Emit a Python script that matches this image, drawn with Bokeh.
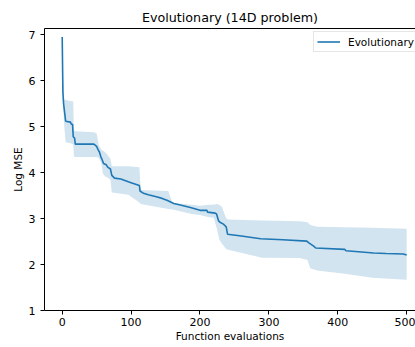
from bokeh.plotting import figure
from bokeh.models import FixedTicker, LinearAxis, Legend, LegendItem, Range1d
from bokeh.embed import file_html
from bokeh.resources import INLINE

title_text = "Evolutionary (14D problem)"
x_label = "Function evaluations"
y_label = "Log MSE"
series_name = "Evolutionary"

x_ticks = [0, 100, 200, 300, 400, 500]
y_ticks = [1, 2, 3, 4, 5, 6, 7]

mean_x = [0, 1, 2, 5, 12, 13, 15, 16, 18, 19, 46, 50, 52, 54, 56, 58, 60, 64, 66, 70,
          72, 76, 85, 96, 100, 112, 113, 118, 125, 138, 145, 152, 162, 170, 186, 200,
          210, 211, 222, 224, 227, 229, 234, 236, 238, 240, 260, 288, 320, 355, 358,
          365, 368, 410, 412, 430, 452, 470, 495, 500]
mean_y = [6.95, 5.75, 5.5, 5.12, 5.1, 5.06, 5.05, 4.78, 4.75, 4.62, 4.62, 4.57, 4.5,
          4.45, 4.35, 4.28, 4.2, 4.17, 4.12, 4.08, 3.94, 3.88, 3.86, 3.8, 3.78, 3.72,
          3.6, 3.55, 3.52, 3.47, 3.44, 3.4, 3.33, 3.3, 3.24, 3.18, 3.18, 3.14, 3.12,
          3.1, 2.95, 2.92, 2.88, 2.85, 2.82, 2.66, 2.62, 2.56, 2.54, 2.51, 2.47, 2.4,
          2.36, 2.33, 2.3, 2.28, 2.25, 2.24, 2.23, 2.21]

band_x = [0, 1, 2, 3, 5, 12, 16, 17, 19, 46, 50, 53, 55, 57, 59, 62, 65, 70, 72, 96,
          112, 114, 154, 160, 188, 200, 213, 220, 224, 228, 232, 238, 241, 290, 345,
          356, 360, 370, 410, 450, 500]
band_upper = [7.1, 6.2, 5.8, 5.6, 5.58, 5.56, 5.55, 4.92, 4.9, 4.88, 4.85, 4.6, 4.55,
              4.5, 4.48, 4.45, 4.4, 4.3, 4.14, 4.14, 4.12, 3.62, 3.6, 3.34, 3.3, 3.28,
              3.3, 3.3, 3.32, 3.3, 3.25, 3.0, 2.98, 2.96, 2.94, 2.92, 2.86, 2.82, 2.81,
              2.8, 2.78]
band_lower = [6.85, 5.6, 5.3, 5.0, 4.66, 4.64, 4.62, 4.35, 4.34, 4.34, 4.34, 4.32,
              4.26, 4.2, 3.98, 3.92, 3.9, 3.85, 3.57, 3.52, 3.35, 3.32, 3.21, 3.2, 3.1,
              3.08, 3.03, 3.02, 2.8, 2.55, 2.45, 2.34, 2.32, 2.15, 2.14, 2.1, 1.92,
              1.87, 1.8, 1.71, 1.67]

FONT = "DejaVu Sans"
BLUE = "#1f77b4"

p = figure(width=415, height=347, x_range=Range1d(-25.7, 512.8), y_range=Range1d(1, 7.137),
           output_backend="svg", toolbar_location=None, title=title_text,
           min_border_left=44, min_border_right=0, min_border_top=28, min_border_bottom=37)

p.background_fill_color = "white"
p.border_fill_color = "white"
p.outline_line_color = None
p.xgrid.visible = False
p.ygrid.visible = False

p.title.text_font = FONT
p.title.text_font_size = "12.7px"
p.title.text_font_style = "normal"
p.title.text_color = "black"
p.title.align = "center"
p.title.standoff = 8

p.varea(x=band_x, y1=band_lower, y2=band_upper, fill_color=BLUE, fill_alpha=0.2)
line = p.line(mean_x, mean_y, line_color=BLUE, line_width=1.6)

for ax, ticks, lab in ((p.xaxis[0], x_ticks, x_label), (p.yaxis[0], y_ticks, y_label)):
    ax.ticker = FixedTicker(ticks=ticks)
    ax.minor_tick_line_color = None
    ax.major_tick_in = 0
    ax.major_tick_out = 4
    ax.major_tick_line_color = "black"
    ax.axis_line_color = "black"
    ax.major_label_text_font = FONT
    ax.major_label_text_font_size = "11px"
    ax.major_label_text_color = "black"
    ax.axis_label = lab
    ax.axis_label_text_font = FONT
    ax.axis_label_text_font_size = "10.5px"
    ax.axis_label_text_font_style = "normal"
    ax.axis_label_text_color = "black"

p.xaxis[0].major_label_standoff = 3
p.xaxis[0].axis_label_standoff = 1
p.yaxis[0].major_label_standoff = 5
p.yaxis[0].axis_label_standoff = 2

top = LinearAxis(ticker=FixedTicker(ticks=[]), axis_line_color="black",
                 major_tick_line_color=None, minor_tick_line_color=None,
                 major_label_text_font_size="0px")
p.add_layout(top, "above")

legend = Legend(items=[LegendItem(label=series_name, renderers=[line])],
                location=(269, 258))
legend.label_text_font = FONT
legend.label_text_font_size = "10.5px"
legend.label_text_color = "black"
legend.padding = 3
legend.spacing = 0
legend.margin = 0
legend.glyph_width = 23
legend.glyph_height = 13
legend.label_height = 13
legend.label_standoff = 8
legend.border_line_color = "#cccccc"
legend.border_line_width = 1
legend.background_fill_alpha = 0.8
p.add_layout(legend, "center")

open("out.html", "w").write(file_html(p, INLINE))
